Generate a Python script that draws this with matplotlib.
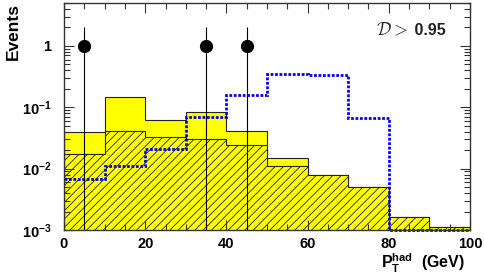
import numpy as np
import matplotlib
matplotlib.use('Agg')
import matplotlib.pyplot as plt
from matplotlib.ticker import FixedLocator, MultipleLocator, LogLocator, NullFormatter

plt.rcParams['font.family'] = ['Liberation Sans', 'DejaVu Sans']
plt.rcParams['font.weight'] = 'bold'
plt.rcParams['mathtext.fontset'] = 'custom'
plt.rcParams['mathtext.rm'] = 'Liberation Sans:bold'
plt.rcParams['mathtext.bf'] = 'Liberation Sans:bold'
plt.rcParams['mathtext.it'] = 'Liberation Sans:bold:italic'
plt.rcParams['hatch.linewidth'] = 0.6

# datos (bins de 10 GeV)
bin_edges = np.arange(0, 101, 10)
total_bkg = [0.040, 0.145, 0.062, 0.083, 0.041, 0.015, 0.0080, 0.0051, 0.0016, 0.0011]
hatched_bkg = [0.0174, 0.041, 0.033, 0.030, 0.0245, 0.011, 0.0080, 0.0051, 0.0016, 0.0011]
signal = [0.0069, 0.011, 0.021, 0.069, 0.16, 0.35, 0.33, 0.066, 0.0, 0.0]
data_x = [5, 35, 45]
data_y = [1, 1, 1]
data_err = [1, 1, 1]

ymin, ymax = 1e-3, 5

fig = plt.figure(figsize=(4.85, 2.78), dpi=100)
ax = fig.add_axes([64/485, 48/278, 406/485, 227/278])

# fondo total (amarillo) y componente rayada
ax.stairs(total_bkg, bin_edges, fill=True, baseline=1e-6, facecolor='#ffff00',
          edgecolor='#222222', linewidth=0.8)
ax.stairs(hatched_bkg, bin_edges, fill=True, baseline=1e-6, facecolor='#ffff00',
          edgecolor='#222222', hatch='////', linewidth=0.8)

# señal (azul punteado), los ceros se dibujan en el minimo del eje
sig_draw = np.clip(signal, ymin, None)
ax.stairs(sig_draw, bin_edges, baseline=None, color='#0000ff', linewidth=2.0,
          linestyle=(0, (1, 0.6)), clip_on=False, zorder=3)

# datos
lower = [v - 1e-6 for v in data_err]
ax.errorbar(data_x, data_y, yerr=[lower, data_err], fmt='o', color='k',
            markersize=8.5, elinewidth=0.8, capsize=0, zorder=4)

ax.set_yscale('log')
ax.set_xlim(0, 100)
ax.set_ylim(ymin, ymax)

ax.xaxis.set_major_locator(MultipleLocator(20))
ax.xaxis.set_minor_locator(MultipleLocator(5))
ax.yaxis.set_major_locator(FixedLocator([1e-3, 1e-2, 1e-1, 1]))
ax.yaxis.set_minor_locator(LogLocator(base=10, subs=np.arange(2, 10), numticks=20))
ax.yaxis.set_minor_formatter(NullFormatter())
ax.set_yticklabels([r'$\mathbf{10^{-3}}$', r'$\mathbf{10^{-2}}$', r'$\mathbf{10^{-1}}$', '1'])
ax.tick_params(which='both', direction='in', top=True, right=True, labelsize=10.5,
               width=0.8, color='#333333')
ax.tick_params(which='major', length=7, pad=5)
ax.tick_params(axis='y', which='major', pad=9)
ax.tick_params(which='minor', length=4)
for lab in ax.get_xticklabels() + ax.get_yticklabels():
    lab.set_fontweight('bold')
for s in ax.spines.values():
    s.set_linewidth(1.0)
    s.set_color('#333333')
    s.set_zorder(5)

ax.set_ylabel('Events', loc='top', fontsize=12.5, fontweight='bold')
ax.yaxis.set_label_coords(-0.105, 1.0)
ax.set_xlabel(r'$\mathbf{P_T^{had}}$  (GeV)', loc='right', fontsize=11.5, fontweight='bold')
ax.xaxis.set_label_coords(0.988, -0.095)

ax.text(0.847, 0.881, r'$\mathcal{D} >$', transform=ax.transAxes, ha='right', va='center',
        fontsize=13, math_fontfamily='cm', fontweight='normal', color='#222222')
ax.text(0.851, 0.881, ' 0.95', transform=ax.transAxes, ha='left', va='center',
        fontsize=11.5, fontweight='bold', color='#222222')

fig.savefig('out.png', dpi=100)
